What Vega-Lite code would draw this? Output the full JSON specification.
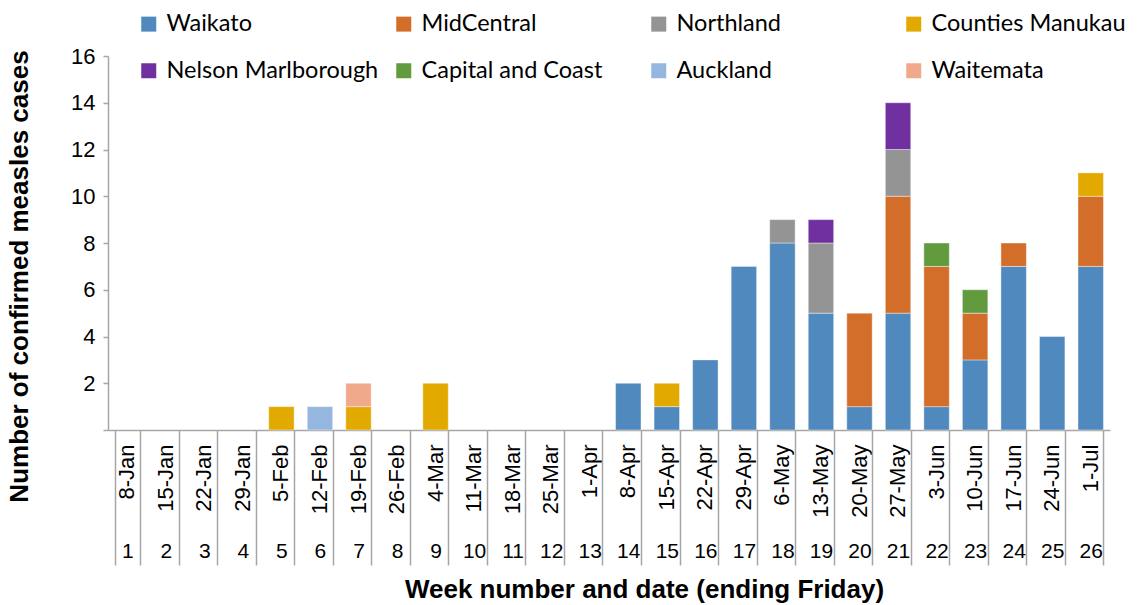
{
  "$schema": "https://vega.github.io/schema/vega-lite/v6.json",
  "autosize": "none",
  "width": 1002,
  "height": 374,
  "padding": {"left": 108, "top": 56, "right": 32, "bottom": 175},
  "background": "white",
  "config": {"view": {"stroke": null}, "font": "Liberation Sans"},
  "datasets": {
    "cases": [
      {"week": 5, "date": "5-Feb", "dhb": "Counties Manukau", "rank": 4, "cases": 1},
      {"week": 6, "date": "12-Feb", "dhb": "Auckland", "rank": 7, "cases": 1},
      {"week": 7, "date": "19-Feb", "dhb": "Counties Manukau", "rank": 4, "cases": 1},
      {"week": 7, "date": "19-Feb", "dhb": "Waitemata", "rank": 8, "cases": 1},
      {"week": 9, "date": "4-Mar", "dhb": "Counties Manukau", "rank": 4, "cases": 2},
      {"week": 14, "date": "8-Apr", "dhb": "Waikato", "rank": 1, "cases": 2},
      {"week": 15, "date": "15-Apr", "dhb": "Waikato", "rank": 1, "cases": 1},
      {"week": 15, "date": "15-Apr", "dhb": "Counties Manukau", "rank": 4, "cases": 1},
      {"week": 16, "date": "22-Apr", "dhb": "Waikato", "rank": 1, "cases": 3},
      {"week": 17, "date": "29-Apr", "dhb": "Waikato", "rank": 1, "cases": 7},
      {"week": 18, "date": "6-May", "dhb": "Waikato", "rank": 1, "cases": 8},
      {"week": 18, "date": "6-May", "dhb": "Northland", "rank": 3, "cases": 1},
      {"week": 19, "date": "13-May", "dhb": "Waikato", "rank": 1, "cases": 5},
      {"week": 19, "date": "13-May", "dhb": "Northland", "rank": 3, "cases": 3},
      {"week": 19, "date": "13-May", "dhb": "Nelson Marlborough", "rank": 5, "cases": 1},
      {"week": 20, "date": "20-May", "dhb": "Waikato", "rank": 1, "cases": 1},
      {"week": 20, "date": "20-May", "dhb": "MidCentral", "rank": 2, "cases": 4},
      {"week": 21, "date": "27-May", "dhb": "Waikato", "rank": 1, "cases": 5},
      {"week": 21, "date": "27-May", "dhb": "MidCentral", "rank": 2, "cases": 5},
      {"week": 21, "date": "27-May", "dhb": "Northland", "rank": 3, "cases": 2},
      {"week": 21, "date": "27-May", "dhb": "Nelson Marlborough", "rank": 5, "cases": 2},
      {"week": 22, "date": "3-Jun", "dhb": "Waikato", "rank": 1, "cases": 1},
      {"week": 22, "date": "3-Jun", "dhb": "MidCentral", "rank": 2, "cases": 6},
      {"week": 22, "date": "3-Jun", "dhb": "Capital and Coast", "rank": 6, "cases": 1},
      {"week": 23, "date": "10-Jun", "dhb": "Waikato", "rank": 1, "cases": 3},
      {"week": 23, "date": "10-Jun", "dhb": "MidCentral", "rank": 2, "cases": 2},
      {"week": 23, "date": "10-Jun", "dhb": "Capital and Coast", "rank": 6, "cases": 1},
      {"week": 24, "date": "17-Jun", "dhb": "Waikato", "rank": 1, "cases": 7},
      {"week": 24, "date": "17-Jun", "dhb": "MidCentral", "rank": 2, "cases": 1},
      {"week": 25, "date": "24-Jun", "dhb": "Waikato", "rank": 1, "cases": 4},
      {"week": 26, "date": "1-Jul", "dhb": "Waikato", "rank": 1, "cases": 7},
      {"week": 26, "date": "1-Jul", "dhb": "MidCentral", "rank": 2, "cases": 3},
      {"week": 26, "date": "1-Jul", "dhb": "Counties Manukau", "rank": 4, "cases": 1}
    ],
    "weeks": [
      {"week": 1, "date": "8-Jan"}, {"week": 2, "date": "15-Jan"}, {"week": 3, "date": "22-Jan"},
      {"week": 4, "date": "29-Jan"}, {"week": 5, "date": "5-Feb"}, {"week": 6, "date": "12-Feb"},
      {"week": 7, "date": "19-Feb"}, {"week": 8, "date": "26-Feb"}, {"week": 9, "date": "4-Mar"},
      {"week": 10, "date": "11-Mar"}, {"week": 11, "date": "18-Mar"}, {"week": 12, "date": "25-Mar"},
      {"week": 13, "date": "1-Apr"}, {"week": 14, "date": "8-Apr"}, {"week": 15, "date": "15-Apr"},
      {"week": 16, "date": "22-Apr"}, {"week": 17, "date": "29-Apr"}, {"week": 18, "date": "6-May"},
      {"week": 19, "date": "13-May"}, {"week": 20, "date": "20-May"}, {"week": 21, "date": "27-May"},
      {"week": 22, "date": "3-Jun"}, {"week": 23, "date": "10-Jun"}, {"week": 24, "date": "17-Jun"},
      {"week": 25, "date": "24-Jun"}, {"week": 26, "date": "1-Jul"}
    ]
  },
  "layer": [
    {
      "data": {"name": "cases"},
      "mark": {"type": "bar", "stroke": "#ffffff", "strokeWidth": 0.8, "strokeOpacity": 0.5},
      "encoding": {
        "x": {
          "field": "date", "type": "nominal",
          "scale": {
            "domain": ["8-Jan","15-Jan","22-Jan","29-Jan","5-Feb","12-Feb","19-Feb","26-Feb","4-Mar","11-Mar","18-Mar","25-Mar","1-Apr","8-Apr","15-Apr","22-Apr","29-Apr","6-May","13-May","20-May","27-May","3-Jun","10-Jun","17-Jun","24-Jun","1-Jul"],
            "paddingInner": 0.34, "paddingOuter": 0.17
          },
          "axis": {
            "orient": "bottom", "title": null, "grid": false,
            "domain": true, "domainColor": "#A6A6A6", "domainWidth": 1.5,
            "ticks": false, "labelAngle": -90, "labelFontSize": 22,
            "labelFont": "Liberation Sans", "labelColor": "#000000",
            "labelPadding": 14, "labelOverlap": false, "labelBound": false
          }
        },
        "y": {
          "field": "cases", "type": "quantitative", "stack": "zero",
          "scale": {"domain": [0, 16], "nice": false},
          "axis": {
            "values": [0, 2, 4, 6, 8, 10, 12, 14, 16],
            "labelExpr": "datum.value == 0 ? '' : datum.label",
            "grid": false, "domainColor": "#A6A6A6", "domainWidth": 1.5,
            "tickColor": "#A6A6A6", "tickSize": 5, "tickWidth": 1.5,
            "labelFontSize": 22, "labelFont": "Liberation Sans", "labelColor": "#000000",
            "labelPadding": 8,
            "title": "Number of confirmed measles cases",
            "titleFont": "Liberation Sans", "titleFontSize": 26, "titleFontWeight": "bold",
            "titleColor": "#000000", "titlePadding": 38, "titleY": 220
          }
        },
        "color": {
          "field": "dhb", "type": "nominal",
          "scale": {
            "domain": ["Waikato","MidCentral","Northland","Counties Manukau","Nelson Marlborough","Capital and Coast","Auckland","Waitemata"],
            "range": ["#4F89BD","#D36E2A","#949494","#E2A900","#7030A0","#629A3E","#95B7DF","#F1A98C"]
          },
          "legend": {
            "orient": "none", "legendX": 29, "legendY": -44,
            "direction": "horizontal", "columns": 4, "gridAlign": "all",
            "title": null, "symbolType": "square", "symbolSize": 225,
            "symbolStrokeWidth": 0, "symbolOpacity": 1,
            "labelFont": "Lato", "labelFontSize": 23.5, "labelColor": "#000000",
            "labelOffset": 6, "labelLimit": 400,
            "rowPadding": 22, "columnPadding": 13
          }
        },
        "order": {"field": "rank", "type": "quantitative"}
      }
    },
    {
      "data": {"name": "weeks"},
      "mark": {"type": "tick", "opacity": 0},
      "encoding": {
        "x": {
          "field": "week", "type": "ordinal",
          "scale": {"paddingInner": 0.34, "paddingOuter": 0.17},
          "axis": {
            "orient": "bottom", "grid": false, "domain": false,
            "ticks": true, "tickBand": "extent", "tickSize": 135,
            "tickColor": "#A6A6A6", "tickWidth": 1.5,
            "labelAngle": 0, "labelFontSize": 21, "labelFont": "Liberation Sans",
            "labelColor": "#000000", "labelPadding": -25, "labelBaseline": "top",
            "title": "Week number and date (ending Friday)",
            "titleFont": "Liberation Sans", "titleFontSize": 26, "titleFontWeight": "bold",
            "titleColor": "#000000", "titlePadding": 11, "titleX": 536
          }
        }
      }
    }
  ],
  "resolve": {"scale": {"x": "independent"}, "axis": {"x": "independent"}}
}
